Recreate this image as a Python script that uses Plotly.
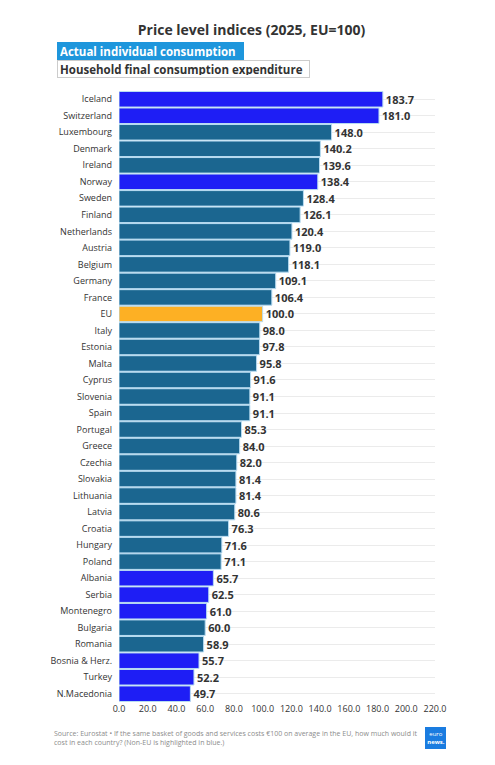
import plotly.graph_objects as go

countries = [
    'Iceland', 'Switzerland', 'Luxembourg', 'Denmark', 'Ireland', 'Norway',
    'Sweden', 'Finland', 'Netherlands', 'Austria', 'Belgium', 'Germany',
    'France', 'EU', 'Italy', 'Estonia', 'Malta', 'Cyprus', 'Slovenia', 'Spain',
    'Portugal', 'Greece', 'Czechia', 'Slovakia', 'Lithuania', 'Latvia',
    'Croatia', 'Hungary', 'Poland', 'Albania', 'Serbia', 'Montenegro',
    'Bulgaria', 'Romania', 'Bosnia & Herz.', 'Turkey', 'N.Macedonia'
]
values = [
    183.7, 181.0, 148.0, 140.2, 139.6, 138.4, 128.4, 126.1, 120.4, 119.0,
    118.1, 109.1, 106.4, 100.0, 98.0, 97.8, 95.8, 91.6, 91.1, 91.1, 85.3,
    84.0, 82.0, 81.4, 81.4, 80.6, 76.3, 71.6, 71.1, 65.7, 62.5, 61.0, 60.0,
    58.9, 55.7, 52.2, 49.7
]
non_eu = ['Iceland', 'Switzerland', 'Norway', 'Albania', 'Serbia',
          'Montenegro', 'Bosnia & Herz.', 'Turkey', 'N.Macedonia']
x_ticks = [0, 20, 40, 60, 80, 100, 120, 140, 160, 180, 200, 220]

EU_COL = '#1b6690'
NON_EU_COL = '#1e1ef5'
AVG_COL = '#fdb024'

colors = []
for c in countries:
    if c == 'EU':
        colors.append(AVG_COL)
    elif c in non_eu:
        colors.append(NON_EU_COL)
    else:
        colors.append(EU_COL)

# the page body adds an 8px offset, so work in page pixels minus 8
OFF = 8
W, H = 495 - OFF, 765 - OFF
PL, PR, PT, PB = 119 - OFF, 435 - OFF, 91 - OFF, 702 - OFF

def px(x):
    return (x - OFF - PL) / (PR - PL)

def py(y):
    return (PB - (y - OFF)) / (PB - PT)

fig = go.Figure()
fig.add_trace(go.Bar(
    x=values,
    y=countries,
    orientation='h',
    marker=dict(color=colors, line=dict(color='#b8dcf2', width=1)),
    text=[f'{v:.1f}' for v in values],
    textposition='outside',
    textfont=dict(family='Open Sans', size=11, color='#333333'),
    texttemplate='<b>%{text}</b>',
    cliponaxis=False,
    showlegend=False,
))

fig.add_annotation(
    x=px(57), y=py(51.5), xref='paper', yref='paper',
    xanchor='left', yanchor='middle', align='left',
    text='<b>Actual individual consumption</b>',
    font=dict(family='Open Sans', size=11.5, color='white'),
    bgcolor='#1e96dc', bordercolor='#1e96dc', borderwidth=1, borderpad=2,
    width=181, height=12, showarrow=False,
)
fig.add_annotation(
    x=px(57), y=py(69), xref='paper', yref='paper',
    xanchor='left', yanchor='middle', align='left',
    text='<b>Household final consumption expenditure</b>',
    font=dict(family='Open Sans', size=11.5, color='#333333'),
    bgcolor='white', bordercolor='#cccccc', borderwidth=1, borderpad=2,
    width=247, height=12, showarrow=False,
)

fig.add_annotation(
    x=px(52), y=py(738), xref='paper', yref='paper',
    xanchor='left', yanchor='middle', align='left',
    text=('Source: Eurostat • If the same basket of goods and services costs €100 on average in the EU, how much would it'
          '<br>cost in each country? (Non-EU is highlighted in blue.)'),
    font=dict(family='Open Sans', size=7, color='#8c8c8c'),
    showarrow=False,
)

# logo
fig.add_shape(
    type='rect', xref='paper', yref='paper',
    x0=px(425), x1=px(446), y0=py(749), y1=py(727),
    fillcolor='#1a7ce0', line=dict(width=0),
)
fig.add_annotation(
    x=px(435.5), y=py(738), xref='paper', yref='paper',
    xanchor='center', yanchor='middle',
    text='euro<br><b>news.</b>', showarrow=False,
    width=22, height=18,
    font=dict(family='Open Sans', size=6, color='white'),
)

fig.update_layout(
    width=W, height=H,
    margin=dict(l=PL, r=W - PR, t=PT, b=H - PB),
    title=dict(
        text='<b>Price level indices (2025, EU=100)</b>',
        x=0.5, xanchor='center', y=1 - (30 - OFF) / H, yanchor='middle',
        font=dict(family='Open Sans', size=14, color='#333333'),
    ),
    paper_bgcolor='white',
    plot_bgcolor='white',
    bargap=0.06,
    font=dict(family='Open Sans', color='#333333'),
    xaxis=dict(
        range=[0, 220],
        tickvals=x_ticks,
        ticktext=[f'{t:.1f}' for t in x_ticks],
        showgrid=False,
        zeroline=False,
        tickfont=dict(size=9, color='#333333'),
        fixedrange=True,
    ),
    yaxis=dict(
        autorange='reversed',
        showgrid=True,
        gridcolor='#ebebeb',
        gridwidth=1,
        tickfont=dict(size=9, color='#333333'),
        ticks='',
        ticklabelstandoff=6,
        fixedrange=True,
    ),
)

fig.write_html('out.html')
